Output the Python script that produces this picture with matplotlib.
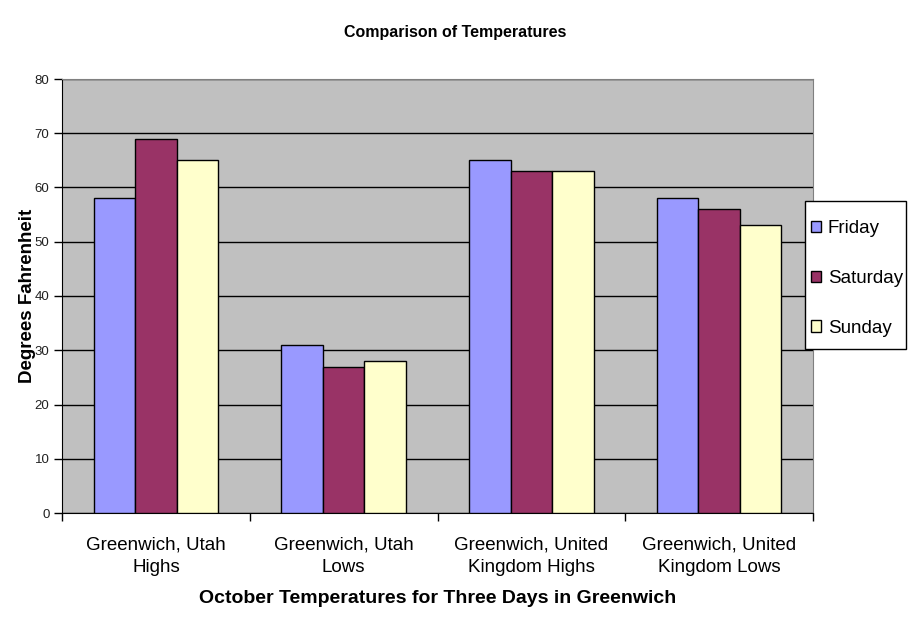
import matplotlib.pyplot as plt
from matplotlib.patches import Rectangle
import numpy as np

plt.rcParams['font.family'] = ['Liberation Sans', 'DejaVu Sans']

# categories and series
categories = ["Greenwich, Utah\nHighs", "Greenwich, Utah\nLows",
              "Greenwich, United\nKingdom Highs", "Greenwich, United\nKingdom Lows"]
days = ["Friday", "Saturday", "Sunday"]
friday = [58, 31, 65, 58]
saturday = [69, 27, 63, 56]
sunday = [65, 28, 63, 53]
colors = ["#9999ff", "#993366", "#ffffcc"]

fig = plt.figure(figsize=(9.11, 6.23), dpi=100)
ax = fig.add_axes([62 / 911, 110 / 623, 751 / 911, 434 / 623])
ax.set_facecolor("#c0c0c0")

x = np.arange(len(categories))
w = 0.221
handles = []
for i, (vals, c) in enumerate(zip([friday, saturday, sunday], colors)):
    b = ax.bar(x + (i - 1) * w, vals, w, color=c, edgecolor="black", linewidth=1,
               label=days[i], zorder=3)
    handles.append(b)

ax.set_xlim(-0.5, 3.5)
ax.set_ylim(0, 80)
ax.set_yticks(range(0, 81, 10))
ax.yaxis.grid(True, color="black", linewidth=1, zorder=1)
ax.set_axisbelow(True)

ax.set_xticks(x)
ax.set_xticklabels(categories, fontsize=13.5, linespacing=1.45)
ax.tick_params(axis="x", length=0, pad=17)
ax.set_xticks(np.arange(-0.5, 4, 1), minor=True)
ax.tick_params(axis="x", which="minor", length=6, width=1, direction="out")
ax.tick_params(axis="y", length=6, width=1, direction="out", labelsize=9.5,
               labelcolor="#202020", pad=3)

for side in ["left", "bottom"]:
    ax.spines[side].set_color("black")
for side in ["top", "right"]:
    ax.spines[side].set_color("#808080")

ax.set_xlabel("October Temperatures for Three Days in Greenwich",
              fontsize=14, fontweight="bold", labelpad=10)
ax.set_ylabel("Degrees Fahrenheit", fontsize=13.5, fontweight="bold", labelpad=-1)
fig.text(455 / 911, 1 - 32 / 623, "Comparison of Temperatures", ha="center",
         va="center", fontsize=11.5, fontweight="bold")

# legend box drawn separately so the padding can be uneven like the original
fig.patches.append(Rectangle((805 / 911, 1 - 349 / 623), 101 / 911, 148 / 623,
                             transform=fig.transFigure, facecolor="white",
                             edgecolor="black", linewidth=1, zorder=4))
leg = fig.legend(handles, days, loc="upper left",
                 bbox_to_anchor=(811 / 911, 1 - 220 / 623),
                 bbox_transform=fig.transFigure, fontsize=13.5, frameon=False,
                 handlelength=0.53, handleheight=0.53, handletextpad=0.37,
                 labelspacing=1.75, borderpad=0, borderaxespad=0)
leg.set_zorder(6)

fig.savefig("out.png", dpi=100)
